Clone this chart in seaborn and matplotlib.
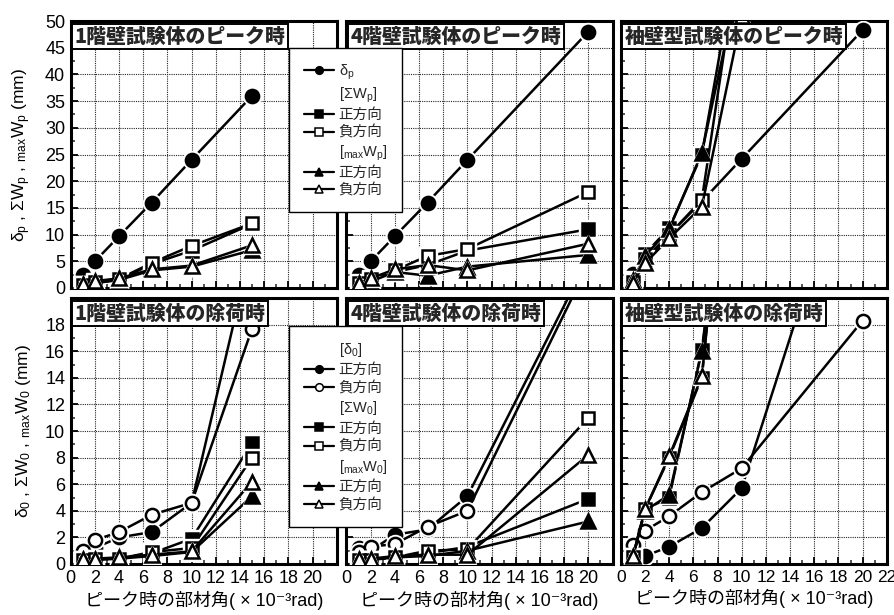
import numpy as np
import matplotlib
matplotlib.use("Agg")
import matplotlib.pyplot as plt
from matplotlib.lines import Line2D
from matplotlib.ticker import MultipleLocator
import seaborn as sns

nan = np.nan

# peak member angle (x10^-3 rad)
x_1f = [1, 2, 4, 6.7, 10, 15]
x_4f = [1, 2, 4, 6.7, 10, 20]
x_sw = [1, 2, 4, 6.7, 10, 20]

# --- at peak (mm) ---
dp_1f = [2.5, 5.0, 9.7, 16.0, 24.0, 36.0]
swp_pos_1f = [0.5, 1.0, 1.5, 4.5, 7.0, 12.0]
swp_neg_1f = [0.6, 1.2, 1.7, 4.7, 7.9, 12.1]
mwp_pos_1f = [0.4, 0.9, 1.5, 3.3, 4.0, 7.1]
mwp_neg_1f = [0.8, 1.3, 1.8, 3.5, 4.2, 8.0]

dp_4f = [2.5, 5.0, 9.7, 16.0, 24.0, 48.0]
swp_pos_4f = [0.8, 1.5, 3.0, 4.3, 7.0, 11.0]
swp_neg_4f = [0.9, 1.6, 3.3, 6.0, 7.3, 18.0]
mwp_pos_4f = [0.6, 1.2, 3.0, 2.3, 4.0, 6.2]
mwp_neg_4f = [0.9, 1.8, 3.5, 4.3, 3.3, 8.3]

dp_sw = [2.6, 5.0, 10.0, 16.2, 24.2, 48.3]
swp_pos_sw = [1.5, 6.4, 11.2, 25.0, 67.0, nan]
swp_neg_sw = [1.2, 5.5, 10.0, 16.5, 66.0, nan]
mwp_pos_sw = [1.5, 6.0, 11.0, 25.3, 60.0, nan]
mwp_neg_sw = [1.0, 4.6, 9.3, 15.2, 51.0, nan]

# --- at unloading (mm) ---
d0_pos_1f = [1.0, 1.2, 2.0, 2.4, 4.6, 24.0]
d0_neg_1f = [1.0, 1.8, 2.4, 3.7, 4.6, 17.7]
sw0_pos_1f = [0.3, 0.4, 0.4, 0.8, 1.9, 9.1]
sw0_neg_1f = [0.3, 0.4, 0.4, 0.9, 1.2, 8.0]
mw0_pos_1f = [0.3, 0.3, 0.4, 0.6, 0.9, 5.1]
mw0_neg_1f = [0.35, 0.4, 0.5, 0.7, 0.95, 6.2]

d0_pos_4f = [1.2, 1.0, 2.2, 2.6, 5.1, 23.0]
d0_neg_4f = [0.9, 1.3, 1.5, 2.8, 4.0, 22.5]
sw0_pos_4f = [0.3, 0.3, 0.5, 0.8, 1.3, 4.9]
sw0_neg_4f = [0.3, 0.3, 0.5, 1.0, 1.1, 11.0]
mw0_pos_4f = [0.3, 0.3, 0.5, 0.6, 1.0, 3.2]
mw0_neg_4f = [0.4, 0.4, 0.6, 0.7, 0.7, 8.2]

d0_pos_sw = [0.3, 0.6, 1.3, 2.7, 5.7, 34.0]
d0_neg_sw = [1.4, 2.5, 3.6, 5.4, 7.2, 18.3]
sw0_pos_sw = [0.5, 4.1, 5.0, 16.1, 40.0, nan]
sw0_neg_sw = [0.5, 4.1, 8.0, 14.0, 45.0, nan]
mw0_pos_sw = [0.5, 4.0, 5.2, 16.0, 38.0, nan]
mw0_neg_sw = [0.6, 4.1, 8.1, 14.1, 43.0, nan]

titles_top = ["1階壁試験体のピーク時", "4階壁試験体のピーク時", "袖壁型試験体のピーク時"]
titles_bot = ["1階壁試験体の除荷時", "4階壁試験体の除荷時", "袖壁型試験体の除荷時"]
ylabel_top = "δ$_p$ , ΣW$_p$ , $_{max}$W$_p$ (mm)"
ylabel_bot = "δ$_0$ , ΣW$_0$ , $_{max}$W$_0$ (mm)"
xlabel = "ピーク時の部材角( × 10⁻³rad)"

sns.set_theme(style="ticks")
plt.rcParams["font.family"] = ["Liberation Sans", "Noto Sans CJK JP", "DejaVu Sans"]
plt.rcParams["mathtext.fontset"] = "custom"
plt.rcParams["mathtext.rm"] = "Liberation Sans"
plt.rcParams["mathtext.it"] = "Liberation Sans"
plt.rcParams["mathtext.sf"] = "Liberation Sans"

W, H = 895, 615
fig = plt.figure(figsize=(W / 100, H / 100), dpi=100)
fig.patch.set_facecolor("white")

lefts = [70.7, 346.5, 620.8]
aw = 266


def add_ax(l, t, w, h):
    return fig.add_axes([l / W, 1 - (t + h) / H, w / W, h / H])


def draw_series(ax, x, y, marker, filled, z, ms=9.5):
    sns.lineplot(x=x, y=y, ax=ax, color="black", lw=1.8, sort=False,
                 estimator=None, zorder=z)
    ax.plot(x, y, ls="none", marker=marker, ms=ms + 3.5, mfc="white",
            mec="white", zorder=z + 0.1)
    ax.plot(x, y, ls="none", marker=marker, ms=ms,
            mfc="black" if filled else "white", mec="black", mew=1.8,
            zorder=z + 0.2)


def style_ax(ax, top, col):
    ax.set_xlim(0, 22)
    if top:
        ax.set_ylim(0, 50)
        ax.set_yticks(np.arange(0, 51, 5))
        ax.yaxis.set_minor_locator(MultipleLocator(2.5))
    else:
        ax.set_ylim(0, 20)
        ax.set_yticks(np.arange(0, 19, 2))
        ax.yaxis.set_minor_locator(MultipleLocator(1))
    ax.set_xticks(np.arange(0, 23 if col == 2 else 21, 2))
    ax.xaxis.set_minor_locator(MultipleLocator(1))
    ax.grid(True, which="major", color="0.15", linestyle=(0, (1, 1)), lw=0.8)
    ax.tick_params(which="major", direction="in", length=5, width=1.3,
                   labelsize=13, pad=4, colors="black")
    ax.tick_params(which="minor", direction="in", length=3, width=1.1)
    if top:
        ax.tick_params(labelbottom=False)
    if col > 0:
        ax.tick_params(labelleft=False)
    for s in ax.spines.values():
        s.set_linewidth(2.2)
        s.set_color("black")
    ax.set_axisbelow(True)


def add_title(ax, text):
    ax.text(0.015, 0.978, text, transform=ax.transAxes, ha="left", va="top",
            fontsize=14.3, fontweight="heavy", family=["Noto Sans CJK JP"],
            zorder=20,
            bbox=dict(boxstyle="square,pad=0.13", fc="white", ec="black", lw=1.4))


top_data = [
    (x_1f, dp_1f, swp_pos_1f, swp_neg_1f, mwp_pos_1f, mwp_neg_1f),
    (x_4f, dp_4f, swp_pos_4f, swp_neg_4f, mwp_pos_4f, mwp_neg_4f),
    (x_sw, dp_sw, swp_pos_sw, swp_neg_sw, mwp_pos_sw, mwp_neg_sw),
]
bot_data = [
    (x_1f, d0_pos_1f, d0_neg_1f, sw0_pos_1f, sw0_neg_1f, mw0_pos_1f, mw0_neg_1f),
    (x_4f, d0_pos_4f, d0_neg_4f, sw0_pos_4f, sw0_neg_4f, mw0_pos_4f, mw0_neg_4f),
    (x_sw, d0_pos_sw, d0_neg_sw, sw0_pos_sw, sw0_neg_sw, mw0_pos_sw, mw0_neg_sw),
]

for col in range(3):
    ax = add_ax(lefts[col], 21, aw, 267)
    style_ax(ax, True, col)
    x, dp, sp, sn, mp, mn = top_data[col]
    draw_series(ax, x, dp, "o", True, 3)
    draw_series(ax, x, sp, "s", True, 4, ms=9)
    draw_series(ax, x, sn, "s", False, 5, ms=9)
    draw_series(ax, x, mp, "^", True, 6)
    draw_series(ax, x, mn, "^", False, 7)
    add_title(ax, titles_top[col])
    if col == 0:
        ax.set_ylabel(ylabel_top, fontsize=12.5, labelpad=9, color="black")

for col in range(3):
    ax = add_ax(lefts[col], 298, aw, 266)
    style_ax(ax, False, col)
    x, dpo, dne, sp, sn, mp, mn = bot_data[col]
    draw_series(ax, x, dpo, "o", True, 3)
    draw_series(ax, x, dne, "o", False, 4)
    draw_series(ax, x, sp, "s", True, 5, ms=9)
    draw_series(ax, x, sn, "s", False, 6, ms=9)
    draw_series(ax, x, mp, "^", True, 7)
    draw_series(ax, x, mn, "^", False, 8)
    add_title(ax, titles_bot[col])
    ax.set_xlabel(xlabel, fontsize=13, labelpad=3, color="black")
    if col == 0:
        ax.set_ylabel(ylabel_bot, fontsize=12.5, labelpad=9, color="black")
    if col == 2:
        ax.tick_params(axis="x", labelsize=12.5)


def handle(marker, filled):
    return Line2D([], [], color="black", lw=1.6, marker=marker, ms=5.5,
                  mfc="black" if filled else "white", mec="black", mew=1.1)


blank = Line2D([], [], linestyle="none")

top_handles = [handle("o", True), blank, handle("s", True), handle("s", False),
               blank, handle("^", True), handle("^", False)]
top_labels = ["δ$_p$", "[ΣW$_p$]", "正方向", "負方向", "[$_{max}$W$_p$]", "正方向", "負方向"]
bot_handles = [blank, handle("o", True), handle("o", False), blank,
               handle("s", True), handle("s", False), blank,
               handle("^", True), handle("^", False)]
bot_labels = ["[δ$_0$]", "正方向", "負方向", "[ΣW$_0$]", "正方向", "負方向",
              "[$_{max}$W$_0$]", "正方向", "負方向"]

for hs, ls, top_px, spacing in [(top_handles, top_labels, 48, 0.24),
                                (bot_handles, bot_labels, 326, 0.29)]:
    leg = fig.legend(hs, ls, loc="upper left", bbox_to_anchor=(289 / W, 1 - top_px / H),
                     frameon=True, fancybox=False, framealpha=1, edgecolor="black",
                     fontsize=10.5, handlelength=2.1, handletextpad=0.3,
                     labelspacing=spacing, borderpad=1.0, borderaxespad=0)
    leg.get_frame().set_linewidth(1.0)
    leg.set_zorder(50)

fig.savefig("out.png", dpi=100, facecolor="white")
